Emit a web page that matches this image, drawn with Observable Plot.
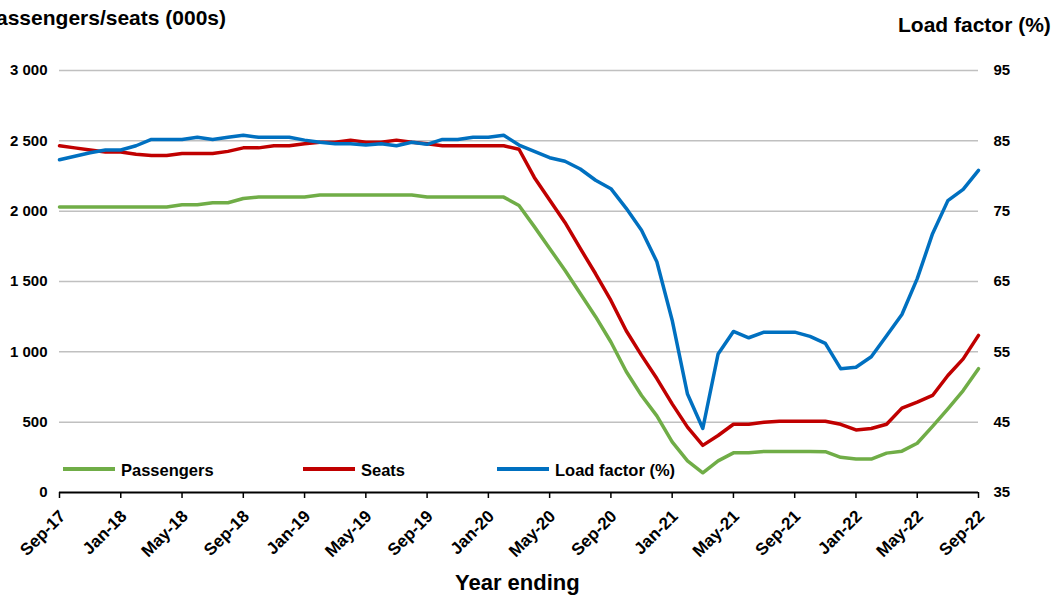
<!DOCTYPE html>
<html><head><meta charset="utf-8">
<script src="https://cdn.jsdelivr.net/npm/d3@7"></script>
<script src="https://cdn.jsdelivr.net/npm/@observablehq/plot@0.6"></script>
<style>
body{margin:0;overflow:hidden;background:#fff;font-family:"Liberation Sans",Arial,sans-serif;font-weight:bold;color:#000;}
#wrap{position:relative;width:1054px;height:595px;overflow:hidden;}
.t{position:absolute;white-space:nowrap;}
.leg{position:absolute;height:4px;}
</style></head><body><div id="wrap"></div>
<script>
const months = ["Sep-17","Oct-17","Nov-17","Dec-17",
"Jan-18","Feb-18","Mar-18","Apr-18","May-18","Jun-18","Jul-18","Aug-18","Sep-18","Oct-18","Nov-18","Dec-18",
"Jan-19","Feb-19","Mar-19","Apr-19","May-19","Jun-19","Jul-19","Aug-19","Sep-19","Oct-19","Nov-19","Dec-19",
"Jan-20","Feb-20","Mar-20","Apr-20","May-20","Jun-20","Jul-20","Aug-20","Sep-20","Oct-20","Nov-20","Dec-20",
"Jan-21","Feb-21","Mar-21","Apr-21","May-21","Jun-21","Jul-21","Aug-21","Sep-21","Oct-21","Nov-21","Dec-21",
"Jan-22","Feb-22","Mar-22","Apr-22","May-22","Jun-22","Jul-22","Aug-22","Sep-22"];

const passengers = [2030,2030,2030,2030,2030,2030,2030,2030,2045,2045,2060,2060,2090,2100,2100,2100,2100,
2115,2115,2115,2115,2115,2115,2115,2100,2100,2100,2100,2100,2100,2040,1890,1735,1580,1415,1250,1070,860,690,545,
360,225,140,225,282,282,292,292,292,292,290,250,238,238,280,294,350,470,595,725,880];

const seats = [2465,2450,2435,2420,2420,2405,2395,2395,2410,2410,2410,2425,2450,2450,2465,2465,2480,2490,2490,2505,
2490,2490,2505,2490,2480,2465,2465,2465,2465,2465,2440,2240,2080,1920,1735,1555,1365,1150,975,810,630,465,335,405,
485,485,500,507,507,507,507,485,445,455,485,600,642,690,832,950,1117];

const loadFactor = [82.3,82.8,83.3,83.7,83.7,84.3,85.2,85.2,85.2,85.5,85.2,85.5,85.8,85.5,85.5,85.5,85.1,84.8,84.6,84.6,
84.4,84.6,84.3,84.8,84.5,85.2,85.2,85.5,85.5,85.8,84.4,83.5,82.6,82.1,81.0,79.4,78.2,75.4,72.3,67.8,
59.5,49.0,44.1,54.7,57.9,57.0,57.8,57.8,57.8,57.2,56.2,52.6,52.8,54.3,57.3,60.3,65.4,71.8,76.5,78.1,80.8];

const xTicks = ["Sep-17","Jan-18","May-18","Sep-18","Jan-19","May-19","Sep-19","Jan-20","May-20","Sep-20","Jan-21","May-21","Sep-21","Jan-22","May-22","Sep-22"];
const leftTicks = [0,500,1000,1500,2000,2500,3000];
const leftTickLabels = ["0","500","1 000","1 500","2 000","2 500","3 000"];
const rightTickLabels = ["35","45","55","65","75","85","95"];
const seriesNames = ["Passengers","Seats","Load factor (%)"];
const colors = ["#70ad47","#c00000","#0070c0"];

// right axis (35–95) mapped onto left scale (0–3000)
const lfDomain = [35,95];
const lfToLeft = v => (v - lfDomain[0]) / (lfDomain[1]-lfDomain[0]) * 3000;

const rows = months.map((m,i)=>({m, p: passengers[i], s: seats[i], lf: lfToLeft(loadFactor[i])}));

const font = '"Liberation Sans", Arial, sans-serif';
const plot = Plot.plot({
  width:1054, height:595,
  marginTop:70, marginBottom:103, marginLeft:59, marginRight:76,
  style:{fontFamily:font, fontWeight:"bold", fontSize:"15px", color:"#000", background:"#fff", overflow:"visible"},
  x:{type:"point", domain:months, padding:0, round:false},
  y:{domain:[0,3000]},
  marks:[
    Plot.gridY(leftTicks.filter(d=>d>0), {stroke:"#c0c0c0", strokeOpacity:1, strokeWidth:1.5}),
    Plot.axisY(leftTicks, {anchor:"left", tickSize:0, tickPadding:12, label:null, fontSize:15,
      tickFormat: d => leftTickLabels[leftTicks.indexOf(d)]}),
    Plot.axisY(leftTicks, {anchor:"right", tickSize:0, tickPadding:15, label:null, fontSize:15,
      tickFormat: d => rightTickLabels[leftTicks.indexOf(d)]}),
    Plot.axisX(xTicks, {anchor:"bottom", tickSize:6, label:null, tickFormat: () => "",
      stroke:"#000", strokeWidth:1.5}),
    Plot.axisX(xTicks, {anchor:"bottom", tickSize:0, tickPadding:11, tickRotate:-45, label:null, fontSize:17,
      dx:3, dy:10}),
    Plot.ruleY([0], {stroke:"#000", strokeWidth:2}),
    Plot.lineY(rows, {x:"m", y:"p", stroke:colors[0], strokeWidth:3.5}),
    Plot.lineY(rows, {x:"m", y:"s", stroke:colors[1], strokeWidth:3.5}),
    Plot.lineY(rows, {x:"m", y:"lf", stroke:colors[2], strokeWidth:3.5})
  ]
});
const wrap = document.getElementById("wrap");
wrap.appendChild(plot);

function addText(txt, css){
  const d = document.createElement("div");
  d.className = "t"; d.textContent = txt; Object.assign(d.style, css);
  wrap.appendChild(d); return d;
}
addText("Passengers/seats (000s)", {right:(1054-226)+"px", top:"8px", fontSize:"21px", lineHeight:"20px"});
addText("Load factor (%)", {left:"898px", top:"14px", fontSize:"21px", lineHeight:"21px"});
addText("Year ending", {left:"455px", top:"572px", fontSize:"22px", lineHeight:"22px"});

const legX = [63,303,497];
seriesNames.forEach((n,i)=>{
  const l = document.createElement("div");
  l.className="leg"; Object.assign(l.style,{left:legX[i]+"px", top:"467px", width:"52px", background:colors[i]});
  wrap.appendChild(l);
  addText(n, {left:(legX[i]+58)+"px", top:"462px", fontSize:"16.5px", lineHeight:"16.5px"});
});
</script></body></html>
